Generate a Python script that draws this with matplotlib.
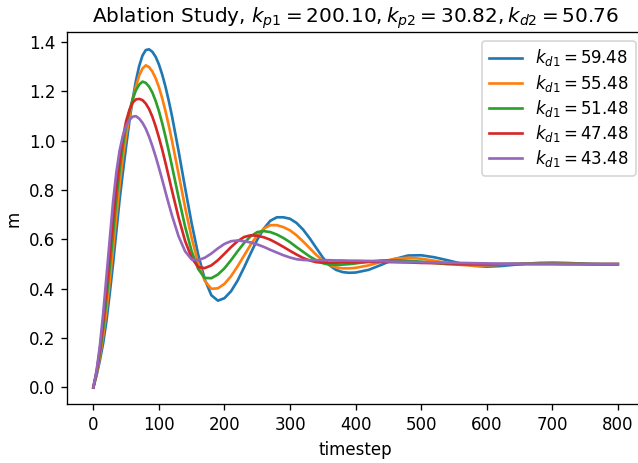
import matplotlib
matplotlib.use("Agg")
import matplotlib.pyplot as plt

# Controller gains
kp1 = 200.10
kp2 = 30.82
kd2 = 50.76
kd1_values = [59.48, 55.48, 51.48, 47.48, 43.48]

# Sampling instants of the logged response
timestep = (list(range(0, 121, 5))
            + list(range(130, 401, 10))
            + list(range(420, 801, 20)))

m_kd1_5948 = [
    0.000, 0.050, 0.110, 0.180, 0.270, 0.380, 0.500, 0.630, 0.760, 0.871,
    0.978, 1.079, 1.168, 1.244, 1.304, 1.346, 1.368, 1.371, 1.361, 1.341,
    1.310, 1.269, 1.220, 1.163, 1.100,
    0.959, 0.809, 0.665, 0.538, 0.438, 0.374, 0.352, 0.362, 0.390, 0.433,
    0.487, 0.544, 0.599, 0.644, 0.676, 0.690, 0.690, 0.684, 0.667, 0.640,
    0.605, 0.566, 0.527, 0.496, 0.477, 0.468, 0.465, 0.466,
    0.477, 0.498, 0.521, 0.535, 0.536, 0.528, 0.516, 0.503, 0.493, 0.490,
    0.492, 0.497, 0.502, 0.505, 0.506, 0.505, 0.503, 0.501, 0.500, 0.500,
]
m_kd1_5548 = [
    0.000, 0.055, 0.125, 0.210, 0.310, 0.430, 0.560, 0.690, 0.820, 0.930,
    1.020, 1.100, 1.165, 1.220, 1.265, 1.293, 1.306, 1.299, 1.281, 1.254,
    1.218, 1.173, 1.121, 1.063, 1.000,
    0.866, 0.730, 0.606, 0.504, 0.432, 0.400, 0.402, 0.420, 0.451, 0.491,
    0.535, 0.579, 0.617, 0.644, 0.658, 0.658, 0.650, 0.637, 0.617, 0.592,
    0.565, 0.538, 0.514, 0.497, 0.487, 0.483, 0.483, 0.485,
    0.495, 0.510, 0.522, 0.526, 0.522, 0.514, 0.505, 0.497, 0.494, 0.495,
    0.497, 0.500, 0.502, 0.503, 0.503, 0.502, 0.501, 0.500, 0.500, 0.500,
]
m_kd1_5148 = [
    0.000, 0.060, 0.140, 0.240, 0.360, 0.490, 0.620, 0.760, 0.880, 0.980,
    1.060, 1.120, 1.170, 1.205, 1.228, 1.240, 1.235, 1.220, 1.196, 1.162,
    1.121, 1.072, 1.018, 0.959, 0.897,
    0.771, 0.652, 0.552, 0.480, 0.444, 0.443, 0.458, 0.483, 0.516, 0.552,
    0.586, 0.613, 0.630, 0.634, 0.630, 0.620, 0.606, 0.589, 0.569, 0.550,
    0.531, 0.516, 0.504, 0.498, 0.497, 0.498, 0.500, 0.503,
    0.510, 0.515, 0.516, 0.514, 0.510, 0.505, 0.500, 0.498, 0.498, 0.499,
    0.500, 0.501, 0.502, 0.502, 0.502, 0.501, 0.501, 0.500, 0.500, 0.500,
]
m_kd1_4748 = [
    0.000, 0.065, 0.155, 0.270, 0.400, 0.540, 0.680, 0.810, 0.920, 1.010,
    1.080, 1.125, 1.155, 1.168, 1.170, 1.165, 1.151, 1.129, 1.098, 1.059,
    1.014, 0.965, 0.911, 0.855, 0.798,
    0.689, 0.594, 0.525, 0.488, 0.484, 0.495, 0.516, 0.542, 0.569, 0.593,
    0.610, 0.617, 0.615, 0.609, 0.599, 0.585, 0.570, 0.554, 0.539, 0.525,
    0.515, 0.508, 0.506, 0.506, 0.506, 0.507, 0.507, 0.508,
    0.509, 0.509, 0.508, 0.507, 0.505, 0.504, 0.503, 0.502, 0.501, 0.500,
    0.500, 0.500, 0.500, 0.500, 0.500, 0.500, 0.500, 0.500, 0.500, 0.500,
]
m_kd1_4348 = [
    0.000, 0.070, 0.170, 0.300, 0.450, 0.600, 0.750, 0.870, 0.960, 1.020,
    1.060, 1.085, 1.098, 1.100, 1.090, 1.073, 1.049, 1.017, 0.979, 0.937,
    0.891, 0.843, 0.793, 0.744, 0.697,
    0.613, 0.552, 0.519, 0.516, 0.526, 0.543, 0.564, 0.582, 0.593, 0.596,
    0.593, 0.588, 0.580, 0.570, 0.558, 0.547, 0.536, 0.527, 0.520, 0.517,
    0.516, 0.516, 0.516, 0.516, 0.515, 0.515, 0.514, 0.514,
    0.513, 0.512, 0.510, 0.509, 0.508, 0.507, 0.506, 0.505, 0.504, 0.503,
    0.502, 0.502, 0.501, 0.501, 0.501, 0.500, 0.500, 0.500, 0.500, 0.500,
]

responses = [m_kd1_5948, m_kd1_5548, m_kd1_5148, m_kd1_4748, m_kd1_4348]

DPI = 120
fig = plt.figure(figsize=(638 / DPI, 463 / DPI), dpi=DPI)
ax = fig.add_axes([0.1052, 0.1266, 0.9042, 0.8034])

for kd1, m in zip(kd1_values, responses):
    ax.plot(timestep, m, linewidth=1.6, label=rf"$k_{{d1}} = {kd1:.2f}$")

ax.set_xticks(range(0, 801, 100))
ax.set_yticks([0.0, 0.2, 0.4, 0.6, 0.8, 1.0, 1.2, 1.4])
ax.set_xlabel("timestep")
ax.set_ylabel("m")
ax.set_title(rf"Ablation Study, $k_{{p1}} = {kp1:.2f}, k_{{p2}} = {kp2:.2f}, k_{{d2}} = {kd2:.2f}$")
ax.legend(loc="upper right", labelspacing=0.25)

fig.savefig("out.png", dpi=DPI)
